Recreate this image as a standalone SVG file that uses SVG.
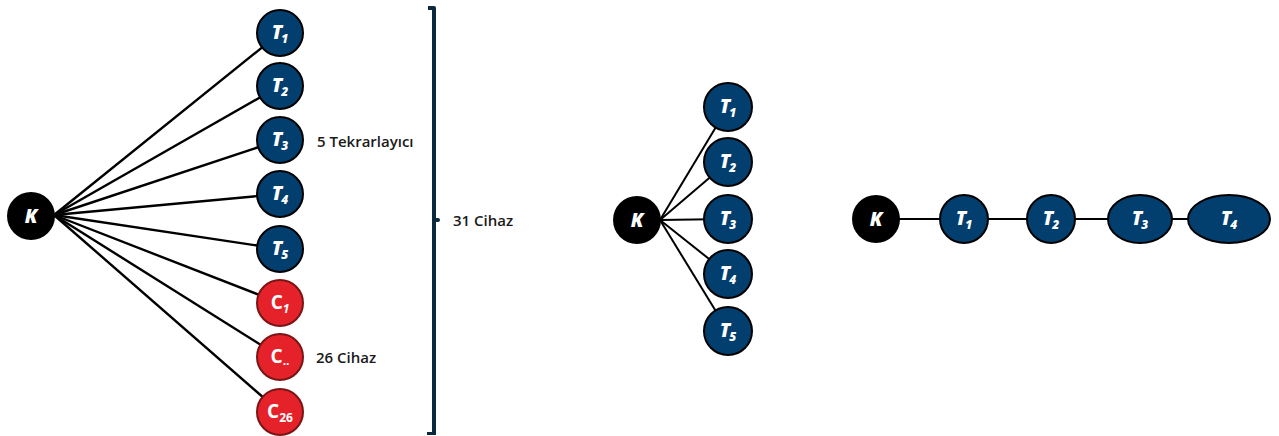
<svg xmlns="http://www.w3.org/2000/svg" width="1279" height="436" viewBox="0 0 1279 436">
<style>
.t{fill:#033f6e;stroke:#000;stroke-width:2}
.c{fill:#e5222a;stroke:#7a1515;stroke-width:2}
.k{fill:#000}
.lb{font-family:"Open Sans","Liberation Sans",sans-serif;font-weight:800;font-style:italic;fill:#fff;font-size:19px;text-anchor:middle}
.cb{font-family:"Open Sans","Liberation Sans",sans-serif;font-weight:700;fill:#fff;font-size:19px;text-anchor:middle}
.sub{font-size:12px}
.cn line{stroke:#000;stroke-width:2.4}
.cn2 line{stroke:#000;stroke-width:2}
.tx{font-family:"Open Sans","Liberation Sans",sans-serif;font-weight:600;font-size:15px;fill:#1a1a1a}
</style>
<rect width="1279" height="436" fill="#fff"/>
<g id="connectors">
<g class="cn">
<line x1="54" y1="215" x2="280" y2="33"/>
<line x1="54" y1="215" x2="280" y2="86"/>
<line x1="54" y1="215" x2="280" y2="140"/>
<line x1="54" y1="215" x2="280" y2="194"/>
<line x1="54" y1="215" x2="280" y2="249"/>
<line x1="54" y1="215" x2="280" y2="303"/>
<line x1="54" y1="215" x2="280" y2="357"/>
<line x1="54" y1="215" x2="280" y2="412"/>
</g>
<g class="cn2">
<line x1="660" y1="220" x2="728" y2="107"/>
<line x1="660" y1="220" x2="728" y2="162"/>
<line x1="660" y1="220" x2="728" y2="219"/>
<line x1="660" y1="220" x2="728" y2="274"/>
<line x1="660" y1="220" x2="728" y2="331"/>
<line x1="876" y1="219" x2="1229" y2="219"/>
</g>
</g>
<g id="bracket" fill="#0c2a3c">
<path d="M428 6 H434 Q436 6 436 8 V435 H427 V432 H432 V10 H428 Z"/>
<rect x="432" y="218" width="8" height="4" rx="2"/>
</g>
<g id="left-K"><circle class="k" cx="31" cy="216" r="24"/><text class="lb" x="31" y="223">K</text></g>
<g id="left-T1"><circle class="t" cx="280" cy="33" r="23"/><text class="lb" x="280" y="39">T<tspan class="sub" dx="-1" dy="4">1</tspan></text></g>
<g id="left-T2"><circle class="t" cx="280" cy="86" r="23"/><text class="lb" x="280" y="92">T<tspan class="sub" dx="-1" dy="4">2</tspan></text></g>
<g id="left-T3"><circle class="t" cx="280" cy="140" r="23"/><text class="lb" x="280" y="146">T<tspan class="sub" dx="-1" dy="4">3</tspan></text></g>
<g id="left-T4"><circle class="t" cx="280" cy="194" r="23"/><text class="lb" x="280" y="200">T<tspan class="sub" dx="-1" dy="4">4</tspan></text></g>
<g id="left-T5"><circle class="t" cx="280" cy="249" r="23"/><text class="lb" x="280" y="255">T<tspan class="sub" dx="-1" dy="4">5</tspan></text></g>
<g id="left-C1"><circle class="c" cx="280" cy="303" r="23"/><text class="cb" x="280" y="309">C<tspan class="sub" font-style="italic" dy="4">1</tspan></text></g>
<g id="left-Cdots"><circle class="c" cx="280" cy="357" r="23"/><text class="cb" x="280" y="363">C<tspan class="sub" dy="2">..</tspan></text></g>
<g id="left-C26"><circle class="c" cx="280" cy="412" r="23"/><text class="cb" x="280" y="418">C<tspan class="sub" dy="4">26</tspan></text></g>
<g id="labels">
<text class="tx" x="317" y="147">5 Tekrarlayıcı</text>
<text class="tx" x="316" y="363">26 Cihaz</text>
<text class="tx" x="453" y="226">31 Cihaz</text>
</g>
<g id="mid-K"><circle class="k" cx="637" cy="220" r="24"/><text class="lb" x="637" y="227">K</text></g>
<g id="mid-T1"><circle class="t" cx="728" cy="107" r="24"/><text class="lb" x="728" y="113">T<tspan class="sub" dx="-1" dy="4">1</tspan></text></g>
<g id="mid-T2"><circle class="t" cx="728" cy="162" r="24"/><text class="lb" x="728" y="168">T<tspan class="sub" dx="-1" dy="4">2</tspan></text></g>
<g id="mid-T3"><circle class="t" cx="728" cy="219" r="24"/><text class="lb" x="728" y="225">T<tspan class="sub" dx="-1" dy="4">3</tspan></text></g>
<g id="mid-T4"><circle class="t" cx="728" cy="274" r="24"/><text class="lb" x="728" y="280">T<tspan class="sub" dx="-1" dy="4">4</tspan></text></g>
<g id="mid-T5"><circle class="t" cx="728" cy="331" r="24"/><text class="lb" x="728" y="337">T<tspan class="sub" dx="-1" dy="4">5</tspan></text></g>
<g id="right-K"><circle class="k" cx="876" cy="219" r="24"/><text class="lb" x="876" y="226">K</text></g>
<g id="right-T1"><circle class="t" cx="964" cy="219" r="24"/><text class="lb" x="964" y="225">T<tspan class="sub" dx="-1" dy="4">1</tspan></text></g>
<g id="right-T2"><circle class="t" cx="1051" cy="219" r="24"/><text class="lb" x="1051" y="225">T<tspan class="sub" dx="-1" dy="4">2</tspan></text></g>
<g id="right-T3"><ellipse class="t" cx="1140" cy="219" rx="32" ry="24"/><text class="lb" x="1140" y="225">T<tspan class="sub" dx="-1" dy="4">3</tspan></text></g>
<g id="right-T4"><ellipse class="t" cx="1229" cy="219" rx="41" ry="24"/><text class="lb" x="1229" y="225">T<tspan class="sub" dx="-1" dy="4">4</tspan></text></g>
</svg>
